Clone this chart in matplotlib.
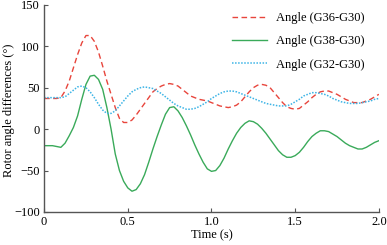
import numpy as np
import matplotlib
matplotlib.use("Agg")
import matplotlib.pyplot as plt

# --- data (t in s, angles in degrees) ---
t = np.linspace(0, 2.0, 81)   # 0.025 s steps

g36_g30 = [37, 37, 37, 37, 38, 46, 58, 74, 90, 104, 113, 113, 106, 93, 76, 58,
           42, 26, 13, 8, 8, 11, 17, 24, 31, 38, 45, 49, 52, 54, 55, 54,
           52, 48, 44, 40, 38, 36, 35, 34, 32, 30, 28, 27, 26, 27, 29, 33,
           39, 45, 50, 53, 54, 53, 50, 44, 38, 32, 27, 25, 24, 25, 29, 33,
           38, 42, 45, 46, 46, 44, 42, 39, 36, 34, 32, 32, 32, 34, 36, 39, 42]

g38_g30 = [-20, -20, -20, -21, -22, -17, -8, 2, 16, 36, 54, 64, 65, 60, 48, 26,
           0, -30, -50, -63, -71, -75, -73, -66, -55, -40, -24, -9, 5, 18, 26, 27,
           22, 14, 4, -7, -19, -30, -40, -48, -51, -50, -44, -35, -24, -14, -5, 2,
           7, 10, 9, 6, 1, -5, -12, -19, -26, -31, -34, -34, -32, -28, -22, -15,
           -9, -5, -2, -2, -3, -6, -9, -13, -17, -20, -22, -24, -24, -22, -19, -16, -14]

g32_g30 = [38, 38, 38, 38, 38, 39, 43, 47, 51, 52, 50, 45, 38, 30, 23, 19,
           19, 22, 28, 34, 40, 45, 48, 50, 51, 50, 49, 46, 43, 39, 35, 31,
           28, 26, 24, 24, 25, 27, 30, 33, 37, 40, 43, 45, 46, 46, 45, 43,
           41, 39, 37, 35, 33, 31, 30, 29, 28, 28, 28, 30, 33, 36, 40, 42,
           44, 44, 43, 42, 40, 37, 35, 33, 32, 31, 31, 31, 32, 33, 34, 36, 37]

labels = ["Angle (G36-G30)", "Angle (G38-G30)", "Angle (G32-G30)"]

plt.rcParams['font.family'] = ['Liberation Serif', 'DejaVu Serif']
plt.rcParams['font.size'] = 9

fig = plt.figure(figsize=(3.87, 2.45), dpi=100)
ax = fig.add_axes([0.114, 0.135, 0.865, 0.845])

ax.plot(t, g36_g30, color='#e8453c', linestyle=(0, (4, 2.5)), linewidth=1.0, label=labels[0])
ax.plot(t, g38_g30, color='#3aaa5a', linestyle='-', linewidth=1.0, label=labels[1])
ax.plot(t, g32_g30, color='#3cb4e6', linestyle=(0, (1, 1)), linewidth=1.1, label=labels[2])

ax.set_xlim(0, 2.0)
ax.set_ylim(-100, 150)
ax.set_xticks([0, 0.5, 1.0, 1.5, 2.0])
ax.set_xticklabels(["0", "0.5", "1.0", "1.5", "2.0"])
ax.set_yticks([-100, -50, 0, 50, 100, 150])

for s in ['top', 'right']:
    ax.spines[s].set_visible(False)
for s in ['left', 'bottom']:
    ax.spines[s].set_color('#555555')
    ax.spines[s].set_linewidth(1.0)
ax.tick_params(direction='in', length=3, color='#555555', pad=3)

ax.set_xlabel("Time (s)", labelpad=1)
ax.set_ylabel("Rotor angle differences (°)")
ax.yaxis.set_label_coords(-0.086, 0.49)

ax.legend(loc='upper right', frameon=False, handlelength=2.8, labelspacing=0.9,
          borderaxespad=0.1, handletextpad=0.7, bbox_to_anchor=(0.975, 0.995))

fig.savefig("out.png", dpi=100)
